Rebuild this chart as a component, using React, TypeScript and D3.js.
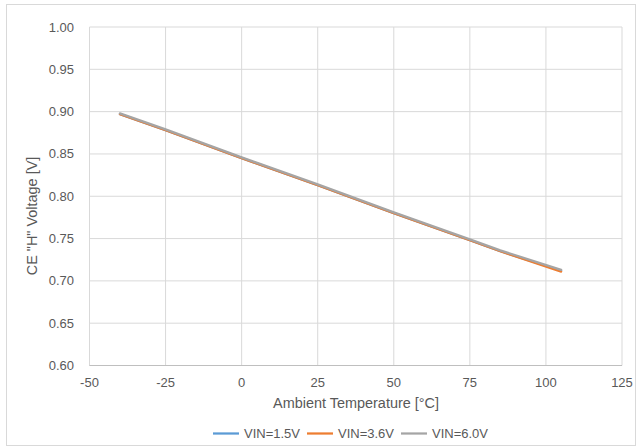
import React from "react";
import * as d3 from "d3";

const temps = [-40, -25, 0, 25, 50, 75, 85, 105];
const vin15 = [0.897, 0.878, 0.845, 0.813, 0.780, 0.748, 0.735, 0.712];
const vin36 = [0.897, 0.878, 0.845, 0.813, 0.780, 0.748, 0.735, 0.711];
const vin60 = [0.898, 0.879, 0.846, 0.814, 0.781, 0.749, 0.736, 0.713];
const seriesNames = ["VIN=1.5V", "VIN=3.6V", "VIN=6.0V"];
const seriesColors = ["#5B9BD5", "#ED7D31", "#A5A5A5"];
const xTicks = [-50, -25, 0, 25, 50, 75, 100, 125];
const yTicks = [0.6, 0.65, 0.7, 0.75, 0.8, 0.85, 0.9, 0.95, 1.0];

export default function App() {
  const W = 641, H = 447;
  const x = d3.scaleLinear().domain([-50, 125]).range([89.5, 622]);
  const y = d3.scaleLinear().domain([0.6, 1.0]).range([365.5, 27]);
  const allSeries = [vin15, vin36, vin60];
  const line = d3
    .line<[number, number]>()
    .x((d) => x(d[0]))
    .y((d) => y(d[1]));
  const font = "'Liberation Sans', Arial, sans-serif";
  const txt = "#595959";
  const legendX = [213, 307, 401];
  return (
    <svg
      width={W}
      height={H}
      style={{ position: "absolute", left: 0, top: 0 }}
      fontFamily={font}
    >
      <rect x={0} y={0} width={W} height={H} fill="#fff" />
      <rect x={6.5} y={4.5} width={629} height={441} fill="none" stroke="#D9D9D9" />
      {xTicks.map((t) => (
        <line key={"gx" + t} x1={x(t)} x2={x(t)} y1={y(1.0)} y2={y(0.6)} stroke="#D9D9D9" strokeWidth={1} />
      ))}
      {yTicks.map((t) => (
        <line key={"gy" + t} x1={x(-50)} x2={x(125)} y1={y(t)} y2={y(t)} stroke="#D9D9D9" strokeWidth={1} />
      ))}
      <line x1={x(-50)} x2={x(125)} y1={y(0.6)} y2={y(0.6)} stroke="#BFBFBF" strokeWidth={1} />
      {yTicks.map((t) => (
        <text key={"ty" + t} x={74} y={y(t)} dy="0.35em" textAnchor="end" fontSize={13} fill={txt}>
          {t.toFixed(2)}
        </text>
      ))}
      {xTicks.map((t) => (
        <text key={"tx" + t} x={x(t)} y={382} dy="0.35em" textAnchor="middle" fontSize={13} fill={txt}>
          {t}
        </text>
      ))}
      <text x={356} y={403} dy="0.35em" textAnchor="middle" fontSize={14.44} fill={txt}>
        Ambient Temperature [°C]
      </text>
      <text
        transform={`translate(32,216) rotate(-90)`}
        textAnchor="middle"
        dy="0.35em"
        fontSize={14.44}
        fill={txt}
      >
        CE "H" Voltage [V]
      </text>
      {allSeries.map((s, i) => (
        <path
          key={"s" + i}
          d={line(temps.map((t, j) => [t, s[j]]) as [number, number][]) || ""}
          fill="none"
          stroke={seriesColors[i]}
          strokeWidth={2.25}
          strokeLinecap="round"
        />
      ))}
      {seriesNames.map((n, i) => (
        <g key={"l" + i}>
          <line x1={legendX[i]} x2={legendX[i] + 26} y1={433.5} y2={433.5} stroke={seriesColors[i]} strokeWidth={2.25} />
          <text x={legendX[i] + 31} y={433.5} dy="0.35em" fontSize={13} fill={txt}>
            {n}
          </text>
        </g>
      ))}
    </svg>
  );
}
